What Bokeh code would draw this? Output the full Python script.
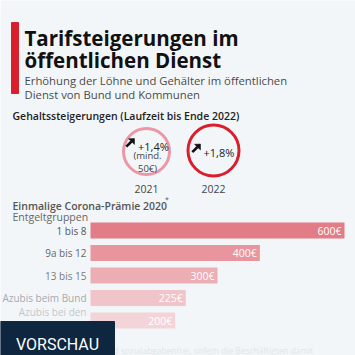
from bokeh.plotting import figure
from bokeh.models import Range1d
from bokeh.embed import file_html
from bokeh.resources import INLINE
from bokeh.core.properties import value

# ---------------- data ----------------
title_lines = ["Tarifsteigerungen im", "öffentlichen Dienst"]
subtitle_lines = ["Erhöhung der Löhne und Gehälter im öffentlichen",
                  "Dienst von Bund und Kommunen"]
section1 = "Gehaltssteigerungen (Laufzeit bis Ende 2022)"
years = ["2021", "2022"]
raises = ["+1,4%", "+1,8%"]
raise_notes = ["(mind.\n50€)", ""]
section2 = "Einmalige Corona-Prämie 2020"
axis_title = "Entgeltgruppen"
groups = ["1 bis 8", "9a bis 12", "13 bis 15", "Azubis beim Bund", "Azubis bei den\nKommunen"]
bonus_eur = [600, 400, 300, 225, 200]
bonus_labels = ["600€", "400€", "300€", "225€", "200€"]
footnote = "*Die Prämie ist steuer- und sozialabgabenfrei, sofern die Beschäftigten damit"
badge = "VORSCHAU"

# ---------------- styles / layout ----------------
W = H = 355
BG = "#f3f6f9"
FONT = "Open Sans"
SEMI = "Open Sans SemiBold, Open Sans"
RED = "#d7202c"
bar_colors = ["#e27c86", "#e8959d", "#ecadb3", "#f0c4c9", "#f3d5d9"]
label_colors = ["#555555", "#666666", "#7a7a7a", "#a6aaae", "#c3c7cb"]
circle_colors = ["#ec97a6", "#d91f2d"]
circle_cx = [146, 213]
circle_cy = [151, 150]
circle_r = [23, 25.5]
raise_text_dx = [-8.5, -10]
raise_text_y = [146, 152]
arrow_x0 = [125, 191]
arrow_y0 = [138, 143.5]

BAR_LEFT_PX, BAR_RIGHT_PX = 90, 344
ROW0_PX, ROW_STEP = 230, 22.5

p = figure(width=W, height=H, x_range=Range1d(0, W), y_range=Range1d(H, 0),
           output_backend="svg", toolbar_location=None, min_border=0)
p.axis.visible = False
p.grid.visible = False
p.outline_line_color = None
p.background_fill_color = BG
p.border_fill_color = BG

px_per_eur = (BAR_RIGHT_PX - BAR_LEFT_PX) / max(bonus_eur)
p.extra_x_ranges["eur"] = Range1d(-BAR_LEFT_PX / px_per_eur, (W - BAR_LEFT_PX) / px_per_eur)
p.extra_y_ranges["row"] = Range1d((H - ROW0_PX) / ROW_STEP, -ROW0_PX / ROW_STEP)

# header
p.quad(left=[11], right=[18], top=[22], bottom=[93], color=RED)
p.text(x=[24, 24], y=[37, 59], text=title_lines, text_font=value(FONT),
       text_font_style="bold", text_font_size="20.5px", text_color="#111111",
       text_baseline="alphabetic")
p.text(x=[24, 24], y=[80, 94], text=subtitle_lines, text_font=value(FONT),
       text_font_size="11.3px", text_color="#4a4a4a", text_baseline="alphabetic")

p.text(x=[12], y=[115], text=[section1], text_font=value(SEMI),
       text_font_size="10.5px", text_color="#222222", text_baseline="alphabetic")

# circles
p.circle(x=circle_cx, y=circle_cy, radius=circle_r, fill_color=None,
         line_color=circle_colors, line_width=3)
# arrows (shaft + head)
p.segment(x0=[x + 0.8 for x in arrow_x0], y0=[y + 8.2 for y in arrow_y0],
          x1=[x + 6 for x in arrow_x0], y1=[y + 3 for y in arrow_y0],
          line_color="#111111", line_width=2.6)
p.patches(xs=[[x + 9, x + 3, x + 9] for x in arrow_x0],
          ys=[[y, y + 0.3, y + 6] for y in arrow_y0],
          fill_color="#111111", line_color="#111111", line_width=0.5)
p.text(x=[c + d for c, d in zip(circle_cx, raise_text_dx)], y=raise_text_y, text=raises,
       text_font=value(FONT), text_font_size="11px", text_color="#222222",
       text_baseline="alphabetic")
p.text(x=[circle_cx[0] + 1], y=[161.5], text=[raise_notes[0]], text_font=value(FONT),
       text_font_size="9.5px", text_color="#444444", text_align="center",
       text_baseline="middle", text_line_height=1.0)
p.text(x=circle_cx, y=[188, 188], text=years, text_font=value(FONT),
       text_font_size="10.5px", text_color="#444444", text_align="center",
       text_baseline="alphabetic")

# bar section
p.text(x=[12], y=[205], text=[section2], text_font=value(SEMI),
       text_font_size="10.5px", text_color="#555555", text_baseline="alphabetic")
p.text(x=[164.5], y=[199], text=["*"], text_font=value(FONT),
       text_font_size="7px", text_color="#555555", text_baseline="alphabetic")
p.text(x=[12], y=[216], text=[axis_title], text_font=value(FONT),
       text_font_size="10.5px", text_color="#666666", text_baseline="alphabetic")

rows = list(range(len(groups)))
p.hbar(y=rows, left=0, right=bonus_eur, height=16 / ROW_STEP, fill_color=bar_colors,
       line_color=None, x_range_name="eur", y_range_name="row")
p.text(x=[0] * len(groups), y=rows, text=groups, x_offset=-4, text_font=value(FONT),
       text_font_size="10px", text_color=label_colors, text_align="right",
       text_baseline="middle", text_line_height=1.2,
       x_range_name="eur", y_range_name="row")
p.text(x=bonus_eur, y=rows, text=bonus_labels, x_offset=-3, text_font=value(FONT),
       text_font_size="10.5px", text_color="white", text_align="right",
       text_baseline="middle", x_range_name="eur", y_range_name="row")

# footnote (faded) and preview badge
p.text(x=[12], y=[350], text=[footnote], text_font=value(FONT),
       text_font_size="8.4px", text_color="#e0e5ea", text_baseline="alphabetic")
p.quad(left=[0], right=[114], top=[321], bottom=[356], color="#0f2640")
p.text(x=[57], y=[344], text=[badge],
       text_font=value("Roboto"),
       text_font_size="16px", text_color="white", text_align="center",
       text_baseline="alphabetic")

open("out.html", "w").write(file_html(p, INLINE))
